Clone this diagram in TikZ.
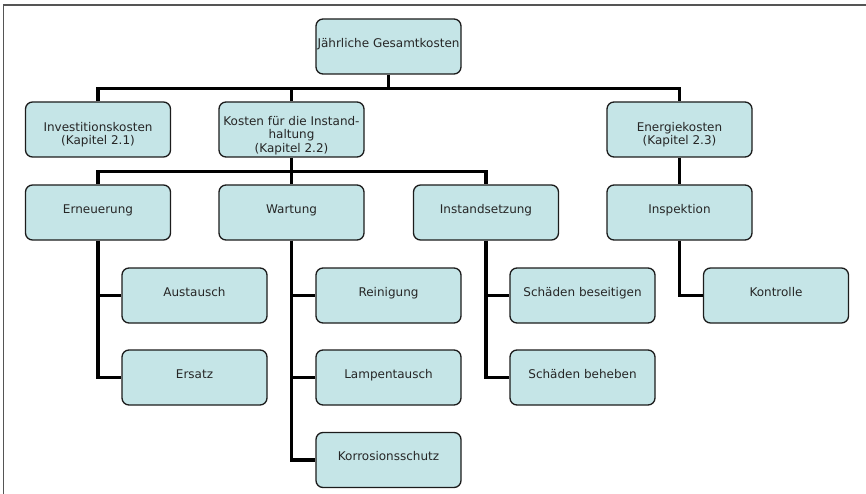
\documentclass[tikz,border=0pt]{standalone}
\usepackage{fontspec}
\setmainfont{DejaVu Sans}
\usetikzlibrary{backgrounds}
\definecolor{bxfill}{RGB}{197,229,231}
\definecolor{bxline}{RGB}{28,28,28}
\definecolor{frmline}{RGB}{85,85,85}
\newcommand{\bxw}{145pt}
\newcommand{\bxh}{55pt}
\newcommand{\clxa}{98}
\newcommand{\clxb}{194.5}
\newcommand{\clxc}{291.5}
\newcommand{\clxd}{388.5}
\newcommand{\clxe}{486}
\newcommand{\clxf}{582.5}
\newcommand{\clxg}{679.5}
\newcommand{\clxh}{776}
\newcommand{\rwya}{46.5}
\newcommand{\rwyb}{129.5}
\newcommand{\rwyc}{212.5}
\newcommand{\rwyd}{295.5}
\newcommand{\rwye}{377.5}
\newcommand{\rwyf}{460}
\newcommand{\busgap}{14}

\begin{document}
\begin{tikzpicture}[x=1pt,y=-1pt,
    font=\fontsize{12}{13.3}\selectfont,
    bx/.style={draw=bxline,line width=1.3pt,fill=bxfill,rounded corners=7pt,
      minimum width=\bxw,minimum height=\bxh,inner sep=0pt,
      text=black!85,align=center},
    lna/.style={text height=9.5pt,text depth=8pt},
    lnb/.style={text height=33pt,text depth=2pt},
    lnc/.style={text height=47.6pt,text depth=2pt},
    cnx/.style={line width=3.2pt,draw=black},
    frm/.style={line width=1.5pt,draw=frmline}]
    \useasboundingbox (0,0) rectangle (866,494);
    \draw[frm] (3.5,494) |- (866,5);

    \node[bx,lna] (top) at (\clxd,\rwya) {Jährliche Gesamtkosten};

    \node[bx,lnb] (inv) at (\clxa,\rwyb) {Investitionskosten\\(Kapitel 2.1)};
    \node[bx,lnc] (kos) at (\clxc,\rwyb)
      {Kosten für die Instand-\\haltung\\(Kapitel 2.2)};
    \node[bx,lnb] (ene) at (\clxg,\rwyb) {Energiekosten\\(Kapitel 2.3)};

    \node[bx,lna] (ern) at (\clxa,\rwyc) {Erneuerung};
    \node[bx,lna] (war) at (\clxc,\rwyc) {Wartung};
    \node[bx,lna] (ins) at (\clxe,\rwyc) {Instandsetzung};
    \node[bx,lna] (isp) at (\clxg,\rwyc) {Inspektion};

    \node[bx,lna] (aus) at (\clxb,\rwyd) {Austausch};
    \node[bx,lna] (ers) at (\clxb,\rwye) {Ersatz};
    \node[bx,lna] (rei) at (\clxd,\rwyd) {Reinigung};
    \node[bx,lna] (lam) at (\clxd,\rwye) {Lampentausch};
    \node[bx,lna] (kor) at (\clxd,\rwyf) {Korrosionsschutz};
    \node[bx,lna] (sbs) at (\clxf,\rwyd) {Schäden beseitigen};
    \node[bx,lna] (sbh) at (\clxf,\rwye) {Schäden beheben};
    \node[bx,lna] (kon) at (\clxh,\rwyd) {Kontrolle};

    \begin{scope}[on background layer]
      \path (top.south) ++(0,\busgap) coordinate (bsa);
      \path (kos.south) ++(0,\busgap) coordinate (bsb);
      \draw[cnx] (top.south) -- (bsa);
      \draw[cnx] (inv.north) |- (bsa) -| (ene.north);
      \draw[cnx] (kos.north) -- (kos.north |- bsa);
      \draw[cnx] (kos.south) -- (war.north);
      \draw[cnx] (ern.north) |- (bsb) -| (ins.north);
      \draw[cnx] (ene.south) -- (isp.north);
      \foreach \p/\c in {ern/aus,ern/ers,war/rei,war/lam,war/kor,
          ins/sbs,ins/sbh,isp/kon}
        \draw[cnx] (\p.south) |- (\c.west);
    \end{scope}
  \end{tikzpicture}
\end{document}
